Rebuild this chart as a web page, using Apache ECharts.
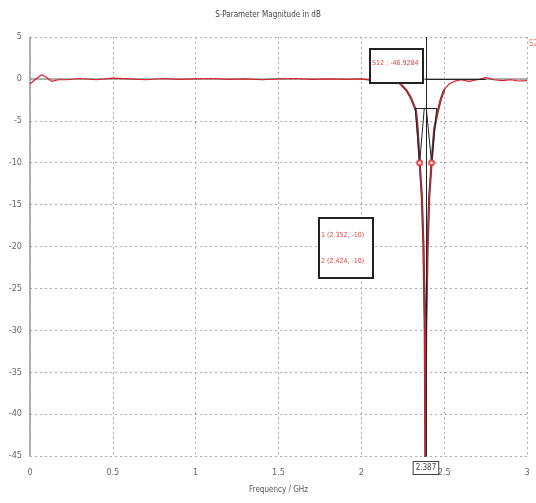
<!DOCTYPE html>
<html>
<head>
<meta charset="utf-8">
<script src="https://cdn.jsdelivr.net/npm/echarts@6/dist/echarts.min.js"></script>
<style>
  html, body { margin: 0; padding: 0; background: #fff; }
  #chart { width: 536px; height: 503px; }
</style>
</head>
<body>
<div id="chart"></div>
<script>
// frequency (GHz) and |S21| (dB)
const freq = [0, 0.03, 0.07, 0.1, 0.13, 0.17, 0.22, 0.3, 0.4, 0.5, 0.6, 0.7, 0.8, 0.9, 1.0,
  1.1, 1.2, 1.3, 1.4, 1.5, 1.6, 1.7, 1.8, 1.9, 2.0, 2.05, 2.1, 2.15, 2.2, 2.24, 2.27, 2.3,
  2.33, 2.34, 2.352, 2.365, 2.375, 2.383, 2.387, 2.391, 2.4, 2.41, 2.424, 2.44, 2.46, 2.48,
  2.5, 2.53, 2.56, 2.6, 2.65, 2.7, 2.75, 2.8, 2.85, 2.9, 2.95, 3.0]
const s21 = [-0.6, -0.1, 0.5, 0.2, -0.3, -0.1, -0.1, 0.05, -0.1, 0.1, 0.0, -0.1, 0.05, -0.05, 0.0,
  0.05, -0.05, 0.0, -0.1, 0.0, 0.05, -0.05, 0.0, -0.05, 0.0, -0.15, -0.05, -0.2, -0.3, -0.7, -1.3, -2.3,
  -3.8, -6, -10, -14, -20, -30, -46.9, -30, -20, -14, -10, -6, -4, -2.4,
  -1.3, -0.6, -0.3, -0.1, -0.3, -0.1, 0.15, -0.1, -0.2, -0.1, -0.25, -0.2]

const xTicks = [0, 0.5, 1, 1.5, 2, 2.5, 3]
const yTicks = [5, 0, -5, -10, -15, -20, -25, -30, -35, -40, -45]

// markers
const markerFreq = 2.387
const markerLabel = 'S12 : -46.9284'
const bwLevel = -10
const bwFreqs = [2.352, 2.424]
const bwLabels = ['1 (2.352, -10)', '2 (2.424, -10)']
const barLevel = -3.5

const font = "'Liberation Sans Narrow', 'DejaVu Sans Condensed', sans-serif"
const chart = echarts.init(document.getElementById('chart'))

const pairs = freq.map((f, i) => [f, s21[i]])
const dipPairs = pairs.filter(p => p[0] >= 2.22 && p[0] <= 2.52)

const vLines = [
  [[2.325, barLevel], [bwFreqs[0], bwLevel]],
  [[2.38, barLevel], [bwFreqs[0], bwLevel]],
  [[2.392, barLevel], [bwFreqs[1], bwLevel]],
  [[2.455, barLevel], [bwFreqs[1], bwLevel]],
  [[2.325, barLevel], [2.455, barLevel]],
  [[markerFreq, 0], [2.75, 0]],
]

chart.setOption({
  animation: false,
  title: {
    text: 'S-Parameter Magnitude in dB',
    left: 'center', top: 6,
    textStyle: { fontSize: 8, fontWeight: 'normal', color: '#444', fontFamily: font },
  },
  grid: { left: 30, right: 9, top: 37, bottom: 47 },
  xAxis: {
    type: 'value', min: 0, max: 3, interval: 0.5,
    name: 'Frequency / GHz', nameLocation: 'middle', nameGap: 30,
    nameTextStyle: { fontSize: 8, color: '#555', fontFamily: font },
    axisLine: { lineStyle: { color: '#999', width: 1.5 } },
    axisTick: { show: false },
    axisLabel: { fontSize: 9, color: '#666', fontFamily: font, margin: 12,
      formatter: v => xTicks.includes(v) ? String(v) : '' },
    splitLine: { lineStyle: { color: '#aaa', type: [2, 3] } },
  },
  yAxis: {
    type: 'value', min: -45, max: 5, interval: 5,
    axisLine: { show: true, lineStyle: { color: '#999', width: 1.5 } },
    axisTick: { show: false },
    axisLabel: { fontSize: 9, color: '#666', fontFamily: font, margin: 8,
      formatter: v => yTicks.includes(v) ? String(v) : '' },
    splitLine: { lineStyle: { color: '#aaa', type: [2, 3] } },
  },
  series: [
    {
      name: 'dip', type: 'line', data: dipPairs, symbol: 'none',
      lineStyle: { color: '#444', width: 2.2 }, z: 1,
    },
    {
      name: 'S21', type: 'line', data: pairs, symbol: 'none', z: 2,
      lineStyle: { color: '#d8202c', width: 1.2 },
      markLine: {
        silent: true, symbol: 'none',
        lineStyle: { color: '#222', width: 1, type: 'solid' },
        label: {
          show: true, position: 'start', formatter: String(markerFreq),
          fontSize: 8, color: '#444', fontFamily: font,
          borderColor: '#444', borderWidth: 1, padding: [2, 2], backgroundColor: '#fff',
          distance: 6,
        },
        data: [{ xAxis: markerFreq }],
      },
    },
    {
      name: 'bw', type: 'line', data: [], symbol: 'none', z: 3,
      markLine: {
        silent: true, symbol: 'none',
        lineStyle: { color: '#222', width: 1, type: 'solid' },
        label: { show: false },
        data: vLines.map(l => [{ coord: l[0] }, { coord: l[1] }]),
      },
    },
    {
      name: 'bwPts', type: 'scatter', data: bwFreqs.map(f => [f, bwLevel]),
      symbol: 'emptyCircle', symbolSize: 5, z: 6,
      itemStyle: { color: '#e03030', borderWidth: 1 },
    },
  ],
  graphic: [
    {
      type: 'rect', left: 369, top: 48, z: 10,
      shape: { width: 53, height: 34 },
      style: { fill: '#fff', stroke: '#222', lineWidth: 2 },
    },
    {
      type: 'text', left: 372, top: 60, z: 11,
      style: { text: markerLabel, fill: '#e04040', fontSize: 7, fontFamily: font },
    },
    {
      type: 'rect', left: 318, top: 217, z: 10,
      shape: { width: 54, height: 60 },
      style: { fill: '#fff', stroke: '#222', lineWidth: 2 },
    },
    {
      type: 'text', left: 321, top: 232, z: 11,
      style: { text: bwLabels[0], fill: '#e04040', fontSize: 7, fontFamily: font },
    },
    {
      type: 'text', left: 321, top: 258, z: 11,
      style: { text: bwLabels[1], fill: '#e04040', fontSize: 7, fontFamily: font },
    },
    {
      type: 'text', left: 529, top: 40, z: 11,
      style: { text: 'S21', fill: '#f08080', fontSize: 8, fontFamily: font },
    },
  ],
})
</script>
</body>
</html>
